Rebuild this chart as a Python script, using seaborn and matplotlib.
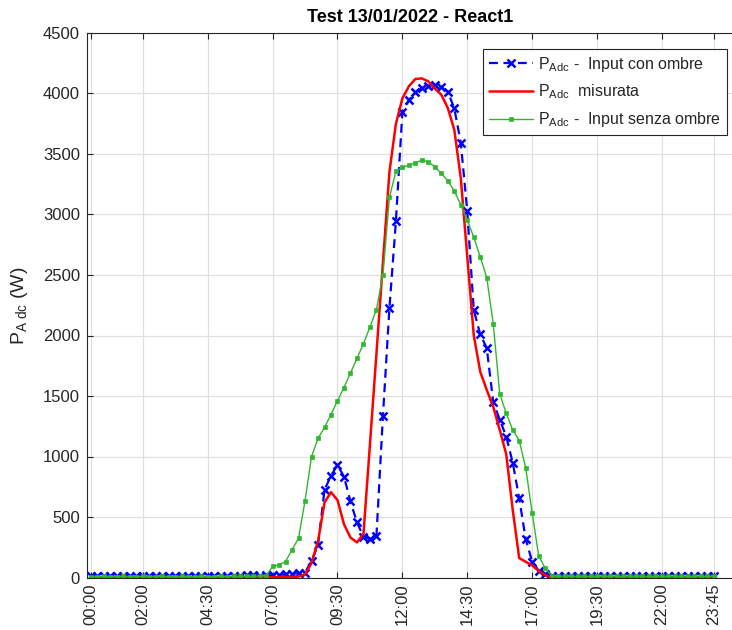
import numpy as np
import pandas as pd
import matplotlib
matplotlib.use("Agg")
import matplotlib.pyplot as plt
import seaborn as sns

# ---------------- data ----------------
sample_idx = list(range(1, 98))  # 15-min samples, 1-based

tick_pos = [1, 9, 19, 29, 39, 49, 59, 69, 79, 89, 97]
tick_labels = ["00:00", "02:00", "04:30", "07:00", "09:30", "12:00",
               "14:30", "17:00", "19:30", "22:00", "23:45"]

p_con_ombre = ([12, 10, 11, 12, 10, 12, 11, 10, 12, 11, 10, 12,
                11, 12, 10, 11, 12, 10, 12, 11, 12, 13, 14, 15]
               + [18, 22, 15, 20, 18, 22, 25, 30, 36, 41, 138, 268, 724, 842,
                  930, 834, 629, 455, 337, 318, 343, 1333, 2224, 2945, 3849,
                  3946, 4010, 4043, 4062, 4070, 4051, 4015, 3877, 3593, 3025,
                  2210, 2009, 1896, 1449, 1305, 1165, 950, 654, 318, 130, 55, 25]
               + [14, 12, 12, 11, 12, 10, 12, 11, 12, 10, 12, 11, 12,
                  10, 12, 11, 12, 10, 12, 11, 12, 10, 12, 11, 12, 12])

p_misurata = ([0] * 26
              + [3, 3, 2, 3, 4, 5, 8, 25, 120, 300, 620, 705, 640, 440, 330,
                 290, 360, 1100, 1850, 2600, 3350, 3750, 3960, 4060, 4120,
                 4125, 4100, 4040, 3990, 3880, 3700, 3300, 2650, 2000, 1700,
                 1550, 1410, 1220, 1020, 560, 160, 130, 100, 55, 20]
              + [0] * 26)

p_senza_ombre = ([8, 8, 9, 8, 8, 9, 8, 8, 9, 8, 8, 9, 8, 8, 9, 8, 8, 9,
                  8, 8, 9, 8, 9, 10, 10, 11, 12]
                 + [15, 91, 105, 132, 229, 326, 635, 999, 1150, 1240, 1347,
                    1460, 1570, 1690, 1810, 1932, 2070, 2214, 2497, 3141, 3358,
                    3389, 3408, 3427, 3449, 3435, 3394, 3339, 3278, 3195, 3080,
                    2953, 2812, 2649, 2478, 2098, 1518, 1358, 1220, 1132, 906,
                    533, 180, 78]
                 + [14, 12, 11, 10, 10, 9, 10, 9, 10, 9, 10, 9, 10,
                    9, 10, 9, 10, 9, 10, 9, 10, 9, 10, 9, 10, 10])

y_ticks = [0, 500, 1000, 1500, 2000, 2500, 3000, 3500, 4000, 4500]

df = pd.DataFrame({"idx": sample_idx, "con": p_con_ombre,
                   "mis": p_misurata, "senza": p_senza_ombre})

# ---------------- style ----------------
sns.set_style("white")
plt.rcParams["font.family"] = ["Liberation Sans", "DejaVu Sans"]
plt.rcParams["mathtext.fontset"] = "custom"
plt.rcParams["mathtext.rm"] = "Liberation Sans"
plt.rcParams["mathtext.it"] = "Liberation Sans:italic"
plt.rcParams["mathtext.bf"] = "Liberation Sans:bold"

dark = "#262626"

fig = plt.figure(figsize=(7.32, 6.30), dpi=100)
ax = fig.add_axes([87 / 732, 1 - 577.5 / 630, (734 - 87) / 732, (577.5 - 33) / 630])

lab_con = r"$\mathregular{P_{Adc}}$ -  Input con ombre"
lab_mis = r"$\mathregular{P_{Adc}}$  misurata"
lab_senza = r"$\mathregular{P_{Adc}}$ -  Input senza ombre"

sns.lineplot(data=df, x="idx", y="con", ax=ax, color="#0000ff",
             linestyle=(0, (4, 2.5)), linewidth=1.6, marker="x",
             markersize=6, markeredgewidth=1.8, markeredgecolor="#0000ff",
             label=lab_con)
sns.lineplot(data=df, x="idx", y="mis", ax=ax, color="#ff0000",
             linewidth=1.8, label=lab_mis)
sns.lineplot(data=df, x="idx", y="senza", ax=ax, color="#2fb82f",
             linewidth=1.0, marker="s", markersize=3,
             markeredgewidth=0.5, markeredgecolor="#2fb82f",
             label=lab_senza)

ax.set_xlim(0.4, 100.1)
ax.set_ylim(0, 4500)
ax.set_xticks(tick_pos)
ax.set_xticklabels(tick_labels, rotation=90)
ax.set_yticks(y_ticks)
ax.set_yticklabels([str(v) for v in y_ticks])

ax.grid(True, color="#e0e0e0", linewidth=0.9)
ax.set_axisbelow(True)
for side in ["left", "bottom", "top"]:
    ax.spines[side].set_color(dark)
    ax.spines[side].set_linewidth(0.8)
ax.spines["right"].set_visible(False)

ax.tick_params(axis="both", direction="in", length=4, width=0.8,
               colors=dark, labelsize=12, top=True, bottom=True,
               left=True, right=False)
ax.tick_params(axis="x", pad=4)
ax.tick_params(axis="y", pad=5)

ax.set_xlabel("")
ax.set_ylabel(r"$\mathregular{P_{A\ dc}}$ (W)", fontsize=14, color=dark)
ax.yaxis.set_label_coords(-0.088, 0.5)

fig.text(410 / 732, 1 - 17 / 630, "Test 13/01/2022 - React1",
         ha="center", va="center", fontsize=13, fontweight="bold", color="black")

leg = ax.legend(loc="upper right", bbox_to_anchor=(726.7 / 732, 1 - 49.3 / 630),
                bbox_transform=fig.transFigure, frameon=True, fancybox=False,
                edgecolor=dark, framealpha=1, fontsize=11.5, handlelength=2.8,
                borderpad=0.35, labelspacing=0.55, handletextpad=0.3,
                borderaxespad=0)
leg.get_frame().set_linewidth(0.8)

fig.savefig("out.png", dpi=100)
